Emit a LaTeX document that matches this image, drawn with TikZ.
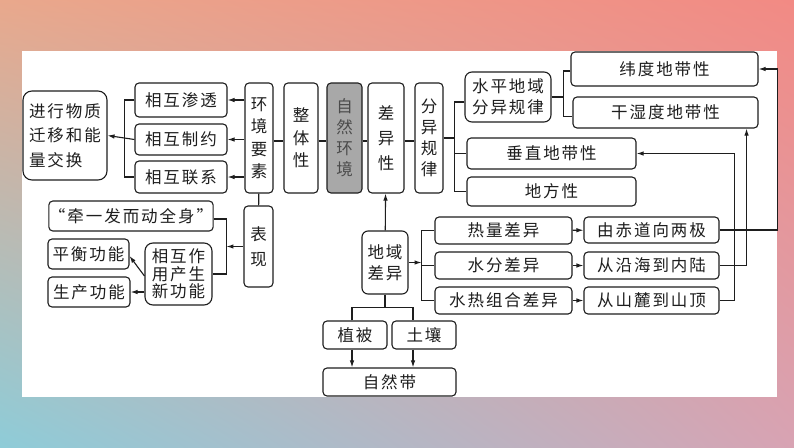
\documentclass[tikz,border=0pt]{standalone}
\usepackage{fontspec}
\usepackage{tikz}
\usetikzlibrary{arrows.meta,positioning,calc,shadings}
\newfontfamily\cjk[LetterSpace=12]{Noto Sans CJK SC}
\definecolor{ink}{HTML}{1E1E1E}
\definecolor{boxgray}{HTML}{A8A8A8}
\definecolor{bgtl}{HTML}{E9A88C}
\definecolor{bgtr}{HTML}{F28A84}
\definecolor{bgbl}{HTML}{8ECCD8}
\definecolor{bgbr}{HTML}{D8A3B3}
\tikzset{
  box/.style={draw=ink, line width=1.1pt, rounded corners=4pt, fill=white,
    text=ink, inner sep=0pt, align=center,
    font=\cjk\fontsize{16.5}{21}\selectfont},
  sz/.style 2 args={minimum width=#1pt, minimum height=#2pt},
  link/.style={draw=ink, line width=1.1pt},
  arr/.style={link, -{Latex[length=7pt,width=4.5pt]}}
}

\begin{document}
\begin{tikzpicture}[x=1pt,y=-1pt]
  % background and panel
  \useasboundingbox (0,0) rectangle (794,447);
  \shade[upper left=bgtl, upper right=bgtr, lower left=bgbl, lower right=bgbr]
    (0,0) rectangle (794,447);
  \fill[white] (22,51) rectangle (777,397);

  % left part
  \node[box, sz={84}{89}, rounded corners=9pt, align=left,
    font=\cjk\fontsize{16.5}{24.5}\selectfont] (jiaohuan) at (65,135.5)
    {进行物质\\迁移和能\\量交换};
  \node[box, sz={92}{34}] (shentou) at (181,100) {相互渗透};
  \node[box, sz={92}{31}] (zhiyue) at (181,139.5) {相互制约};
  \node[box, sz={92}{32}] (lianxi) at (181,177) {相互联系};
  \node[box, sz={28}{110}, font=\cjk\fontsize{16.5}{22.5}\selectfont]
    (yaosu) at (259,138) {环\\境\\要\\素};
  \node[box, sz={34}{110}, font=\cjk\fontsize{16.5}{22.5}\selectfont]
    (zhengti) at (301,138) {整\\体\\性};
  \node[box, sz={35}{110}, fill=boxgray, text=ink!80,
    font=\cjk\fontsize{16.5}{21}\selectfont]
    (ziran) at (344.5,138) {自\\然\\环\\境};
  \node[box, sz={36}{110}, font=\cjk\fontsize{16.5}{25}\selectfont]
    (chayi) at (386,138) {差\\异\\性};
  \node[box, sz={28}{110}] (fenyi) at (429,138) {分\\异\\规\\律};

  \node[box, sz={164}{30}] (quanshen) at (131,216) {“牵一发而动全身”};
  \node[box, sz={81}{30}] (pingheng) at (88.5,254) {平衡功能};
  \node[box, sz={82}{30}] (shengchan) at (89,292) {生产功能};
  \node[box, sz={67}{62}, rounded corners=8pt, align=left,
    font=\cjk\fontsize{16.5}{17.5}\selectfont]
    (xingongneng) at (178.5,274) {相互作\\用产生\\新功能};
  \node[box, sz={29}{81}, font=\cjk\fontsize{16.5}{25}\selectfont]
    (biaoxian) at (258.5,246.5) {表\\现};

  % right part
  \node[box, sz={86}{50}, rounded corners=7pt] (shuiping) at (508,97)
    {水平地域\\分异规律};
  \node[box, sz={187}{34}] (weidu) at (664.5,69) {纬度地带性};
  \node[box, sz={185}{31}] (ganshi) at (665.5,112.5) {干湿度地带性};
  \node[box, sz={169}{31}] (chuizhi) at (551.5,153.5) {垂直地带性};
  \node[box, sz={169}{29}] (difang) at (551.5,191.5) {地方性};

  \node[box, sz={46}{63}, rounded corners=6pt] (diyu) at (385,262.5)
    {地域\\差异};
  \node[box, sz={137}{27}] (reliang) at (503.5,230.5) {热量差异};
  \node[box, sz={137}{27}] (shuifen) at (503.5,265.5) {水分差异};
  \node[box, sz={137}{27}] (shuire) at (503.5,300.5) {水热组合差异};
  \node[box, sz={135}{26}] (chidao) at (651.5,230) {由赤道向两极};
  \node[box, sz={135}{27}] (yanhai) at (651.5,265.5) {从沿海到内陆};
  \node[box, sz={135}{27}] (shanlu) at (651.5,300.5) {从山麓到山顶};

  \node[box, sz={64}{28}] (zhibei) at (355,335) {植被};
  \node[box, sz={64}{28}] (turang) at (424,335) {土壤};
  \node[box, sz={133}{28}] (zirandai) at (389.5,382) {自然带};

  % connectors
  \foreach \a/\b in {yaosu/zhengti, zhengti/ziran, ziran/chayi, chayi/fenyi}
    \draw[link] ([yshift=-3pt]\a.east) -- ([yshift=-3pt]\b.west);
  \foreach \n in {shentou, zhiyue, lianxi}
    \draw[arr] (yaosu.west |- \n) -- (\n.east);
  \draw[link] (shentou.west) -- ++(-10,0) |- (lianxi.west);
  \draw[arr] (zhiyue.west) -- (jiaohuan.east);

  \draw[link] (yaosu) -- (biaoxian);
  \draw[arr] (biaoxian.west) -- ++(-17,0) coordinate (bx);
  \draw[link] ([yshift=-3pt]quanshen.east) -| (bx) |- (xingongneng.east);
  \draw[arr] ([yshift=-2pt]xingongneng.west) -- ([yshift=-2pt]pingheng.east);
  \draw[arr] (xingongneng.west |- shengchan) -- (shengchan.east);

  \draw[link] (fenyi.east) -- ++(11,0) coordinate (fb);
  \draw[link] ([yshift=-5pt]shuiping.west) -| (fb) |- (difang.west);
  \draw[link] (fb |- chuizhi) -- (chuizhi.west);
  \draw[link] (shuiping.east) -- ++(12,0) coordinate (sb);
  \draw[link] ([yshift=-2pt]weidu.west) -| (sb) |- ([yshift=-4pt]ganshi.west);

  \draw[arr] (diyu) -- (chayi);
  \draw[arr] (diyu.east) -- ++(13,0) coordinate (db);
  \draw[link] (reliang.west) -| (db) |- (shuire.west);
  \draw[link] (db |- shuifen) -- (shuifen.west);
  \draw[arr] (reliang) -- (chidao);
  \draw[arr] (shuifen) -- (yanhai);
  \draw[arr] (shuire) -- (shanlu);

  \draw[arr] (chidao.east) -- ++(58,0) |- (weidu.east);
  \draw[arr] (yanhai.east) -- ++(27,0) coordinate (yh) -- (yh |- ganshi.south);
  \draw[arr] (shanlu.east) -- ++(15,0) |- (chuizhi.east);

  \draw[link] (diyu.south) -- ++(0,13) coordinate (dd);
  \draw[link] ([xshift=-3pt]zhibei.north) |- (dd) -| ([xshift=-11pt]turang.north);
  \draw[arr] ([xshift=-3pt]zhibei.south) -- ([xshift=-3pt]zhibei.south |- zirandai.north);
  \draw[arr] ([xshift=-11pt]turang.south) -- ([xshift=-11pt]turang.south |- zirandai.north);
\end{tikzpicture}
\end{document}
